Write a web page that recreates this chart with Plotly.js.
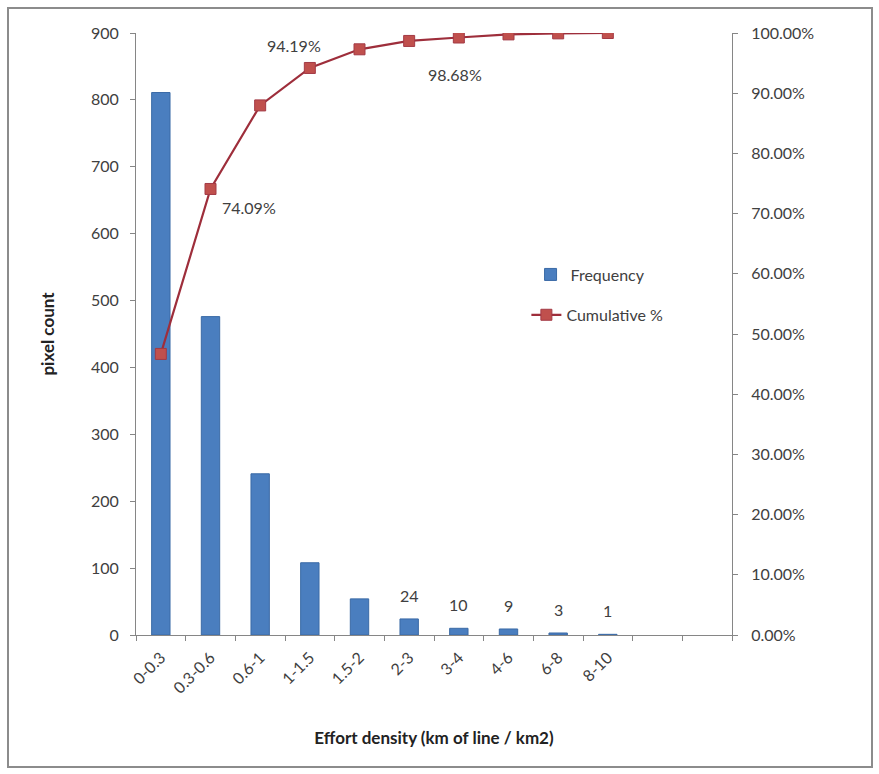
<!DOCTYPE html>
<html>
<head>
<meta charset="utf-8">
<script src="https://cdn.plot.ly/plotly-3.0.1.min.js"></script>
<style>
  html, body { margin: 0; padding: 0; background: #fff; }
  #wrap { position: relative; width: 879px; height: 774px; }
  #chart { width: 879px; height: 774px; }
  #frame { position: absolute; left: 7px; top: 7px; width: 866px; height: 761px;
           border: 2px solid #8c8c8c; pointer-events: none; box-sizing: border-box; }
</style>
</head>
<body>
<div id="wrap"><div id="chart"></div><div id="frame"></div></div>
<script>
// Categories (effort density bins, km of line / km2)
const categories = ['0-0.3', '0.3-0.6', '0.6-1', '1-1.5', '1.5-2', '2-3', '3-4', '4-6', '6-8', '8-10'];
// Frequency (pixel count)
const frequency = [811, 476, 241, 108, 54, 24, 10, 9, 3, 1];
// Cumulative %
const cumulative = [0.4669, 0.7409, 0.8797, 0.9419, 0.9729, 0.9868, 0.9925, 0.9977, 0.9994, 1.0];
// Which bars get a value label, and which cumulative points get a label
const barLabelIdx = [5, 6, 7, 8, 9];
const cumLabelIdx = [1, 3, 5];
const cumLabelPos = { 1: [38, -19], 3: [-16, 22], 5: [46, -34] };
// Slots on the axis (two empty bins at the end)
const nSlots = 12;

const xIdx = categories.map((c, i) => i);
const fontFam = 'Lato, "Open Sans", "DejaVu Sans", sans-serif';
const txtCol = '#404040';

const bar = {
  type: 'bar', x: xIdx, y: frequency, name: 'Frequency',
  marker: { color: '#4A7EBF', line: { color: '#3A6AA6', width: 1 } },
  width: 0.37, yaxis: 'y', legend: 'legend', hoverinfo: 'x+y'
};
const line = {
  type: 'scatter', mode: 'lines+markers', x: xIdx, y: cumulative, name: 'Cumulative %',
  line: { color: '#9E2E3B', width: 2.2 },
  marker: { symbol: 'square', size: 11, color: '#C0504D', line: { color: '#A33A45', width: 1 } },
  yaxis: 'y2', legend: 'legend2'
};

const annotations = [];
barLabelIdx.forEach(i => {
  annotations.push({
    x: i, y: frequency[i], xref: 'x', yref: 'y', text: String(frequency[i]),
    showarrow: false, yanchor: 'bottom', yshift: 12,
    font: { family: fontFam, size: 16, color: txtCol }
  });
});
cumLabelIdx.forEach(i => {
  const p = cumLabelPos[i];
  annotations.push({
    x: i, y: cumulative[i], xref: 'x', yref: 'y2',
    text: (cumulative[i] * 100).toFixed(2) + '%',
    showarrow: false, xshift: p[0], yshift: p[1],
    font: { family: fontFam, size: 16, color: txtCol }
  });
});

const minorVals = [];
for (let k = 0; k <= nSlots; k++) minorVals.push(k - 0.5);

const layout = {
  width: 879, height: 774,
  margin: { l: 136, r: 147, t: 33, b: 139 },
  paper_bgcolor: '#ffffff', plot_bgcolor: '#ffffff',
  font: { family: fontFam, size: 16, color: txtCol },
  showlegend: true,
  xaxis: {
    range: [-0.5, nSlots - 0.5],
    tickvals: xIdx, ticktext: categories, tickangle: -45,
    ticks: '', showgrid: false, zeroline: false,
    showline: true, linecolor: '#868686', linewidth: 1,
    ticklabelstandoff: 6,
    tickfont: { family: fontFam, size: 16, color: txtCol },
    minor: { tickvals: minorVals, ticks: 'outside', ticklen: 5, tickcolor: '#868686', showgrid: false },
    title: { text: '<b>Effort density (km of line / km2)</b>', standoff: 36,
             font: { family: fontFam, size: 17, color: '#222' } },
    fixedrange: true
  },
  yaxis: {
    range: [0, 900], dtick: 100, ticks: 'outside', ticklen: 5, tickcolor: '#868686',
    showgrid: false, zeroline: false, showline: true, linecolor: '#868686', linewidth: 1,
    ticklabelstandoff: 8,
    tickfont: { family: fontFam, size: 16, color: txtCol },
    title: { text: '<b>pixel count</b>', standoff: 32, font: { family: fontFam, size: 17, color: '#222' } },
    fixedrange: true
  },
  yaxis2: {
    overlaying: 'y', side: 'right', range: [0, 1], dtick: 0.1, tickformat: '.2%',
    ticks: 'outside', ticklen: 5, tickcolor: '#868686',
    showgrid: false, zeroline: false, showline: true, linecolor: '#868686', linewidth: 1,
    ticklabelstandoff: 10,
    tickfont: { family: fontFam, size: 16, color: txtCol },
    fixedrange: true
  },
  legend: {
    x: 0.662, y: 0.627, xanchor: 'left', yanchor: 'top', bgcolor: 'rgba(0,0,0,0)',
    font: { family: fontFam, size: 16, color: txtCol }
  },
  legend2: {
    x: 0.655, y: 0.560, xanchor: 'left', yanchor: 'top', bgcolor: 'rgba(0,0,0,0)',
    font: { family: fontFam, size: 16, color: txtCol }
  },
  annotations: annotations
};

Plotly.newPlot('chart', [bar, line], layout, { displayModeBar: false, staticPlot: true });
</script>
</body>
</html>
